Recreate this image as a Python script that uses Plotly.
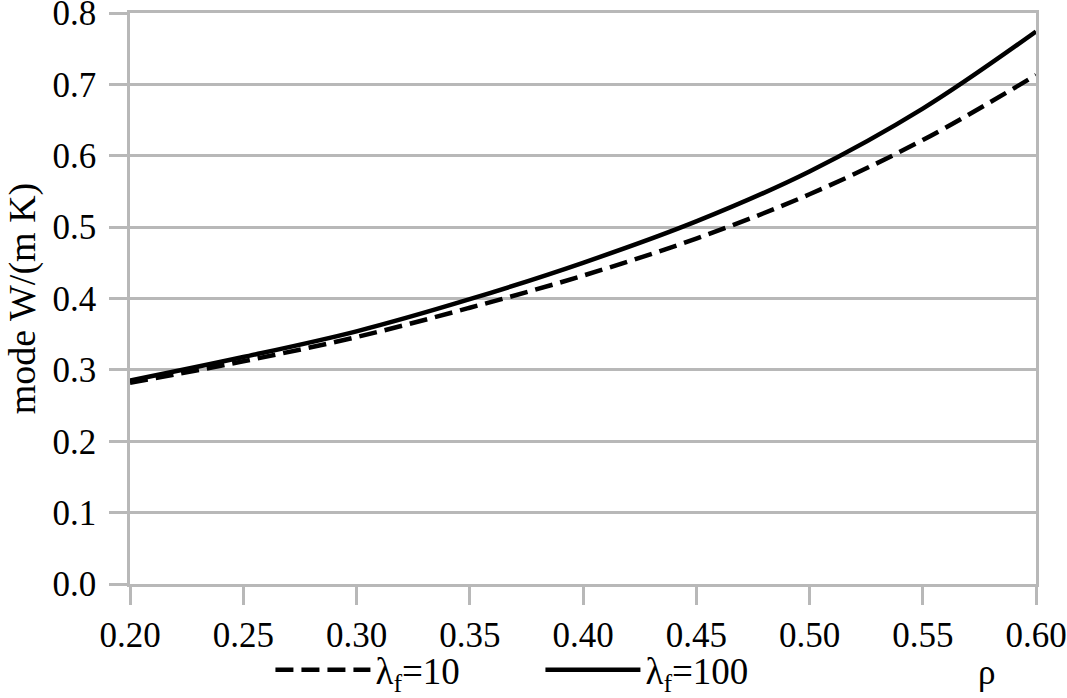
import plotly.graph_objects as go

rho = [0.20, 0.25, 0.30, 0.35, 0.40, 0.45, 0.50, 0.55, 0.60]
lam10 = [0.282, 0.312, 0.346, 0.387, 0.432, 0.484, 0.546, 0.622, 0.713]
lam100 = [0.285, 0.318, 0.354, 0.399, 0.450, 0.508, 0.578, 0.666, 0.774]
x_ticks = [0.20, 0.25, 0.30, 0.35, 0.40, 0.45, 0.50, 0.55, 0.60]
y_ticks = [0.0, 0.1, 0.2, 0.3, 0.4, 0.5, 0.6, 0.7, 0.8]

FONT = "Liberation Serif"
FS = 35
GRID = "#b8b8b8"

fig = go.Figure()
fig.add_trace(go.Scatter(x=rho, y=lam10, mode="lines", line_shape="spline",
                         name="λ<sub>f</sub>=10",
                         line=dict(color="black", width=4.5, dash="18px,8px")))
fig.add_trace(go.Scatter(x=rho, y=lam100, mode="lines", line_shape="spline",
                         name="λ<sub>f</sub>=100",
                         line=dict(color="black", width=4.5)))

fig.update_layout(
    width=1067, height=698,
    margin=dict(l=130, r=31, t=13, b=114),
    paper_bgcolor="white", plot_bgcolor="white",
    font=dict(family=FONT, size=FS, color="black"),
    showlegend=True,
    legend=dict(orientation="h", x=0.155, xanchor="left",
                yref="container", y=0.04, yanchor="middle",
                itemwidth=95, entrywidth=160, font=dict(family=FONT, size=37),
                tracegroupgap=0, bgcolor="rgba(0,0,0,0)"),
    xaxis=dict(range=[0.20, 0.60], tickvals=x_ticks,
               ticktext=[f"{v:.2f}" for v in x_ticks],
               showgrid=False, zeroline=False, automargin=False,
               showline=True, mirror=True, linecolor=GRID, linewidth=2.5,
               ticks="outside", ticklen=18, tickwidth=2.5, tickcolor=GRID,
               ticklabeloverflow="allow",
               tickfont=dict(family=FONT, size=FS)),
    yaxis=dict(range=[0, 0.8], tickvals=y_ticks,
               ticktext=[f"{v:.1f}" for v in y_ticks],
               showgrid=True, gridcolor=GRID, gridwidth=2.5, zeroline=False,
               automargin=False,
               showline=True, mirror=True, linecolor=GRID, linewidth=2.5,
               ticks="outside", ticklen=18, tickwidth=2.5, tickcolor=GRID,
               ticklabelstandoff=6, ticklabeloverflow="allow",
               tickfont=dict(family=FONT, size=FS),
               title=dict(text="mode W/(m K)", font=dict(family=FONT, size=38),
                          standoff=6)),
    annotations=[dict(text="ρ", x=0.945, y=-0.155, xref="paper", yref="paper",
                      xanchor="center", yanchor="middle", showarrow=False,
                      font=dict(family=FONT, size=FS))],
)

fig.write_html("out.html", config={"displayModeBar": False},
               post_script="document.body.style.margin='0';document.body.style.overflow='hidden';")
